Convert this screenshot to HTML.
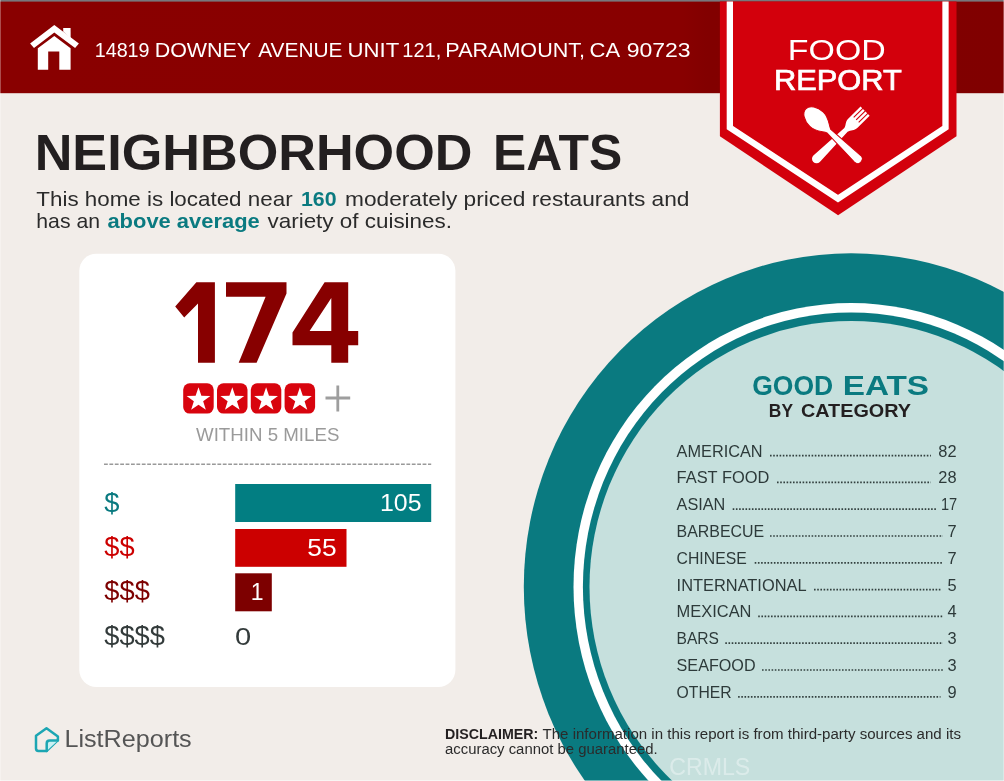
<!DOCTYPE html>
<html><head><meta charset="utf-8"><title>Food Report</title>
<style>html,body{margin:0;padding:0}body{width:1004px;height:781px;overflow:hidden;background:#f2ede9;font-family:"Liberation Sans", sans-serif}svg{display:block;position:absolute;left:0;top:0;will-change:transform}text{font-family:"Liberation Sans", sans-serif}</style>
</head><body>
<svg width="1004" height="781" viewBox="0 0 1004 781">
<defs><linearGradient id="hg" x1="0" x2="1" y1="0" y2="0"><stop offset="0" stop-color="#890000"/><stop offset="0.68" stop-color="#880000"/><stop offset="0.705" stop-color="#820000"/><stop offset="1" stop-color="#800000"/></linearGradient></defs>
<rect x="0" y="0" width="1004" height="781" fill="#f2ede9"/>
<ellipse cx="851.1" cy="586.8" rx="327.3" ry="333.5" fill="#0a7a80"/>
<ellipse cx="851.1" cy="586.8" rx="277.6" ry="283.7" fill="#ffffff"/>
<ellipse cx="851.1" cy="586.8" rx="268.2" ry="274.4" fill="#0a7a80"/>
<ellipse cx="851.1" cy="586.8" rx="261.6" ry="265.8" fill="#c6e0dd"/>
<rect x="0" y="0" width="1004" height="93.2" fill="url(#hg)"/>
<rect x="0" y="0" width="1004" height="1.6" fill="#77777c"/>
<polygon points="719.9,1.5 956.5,1.5 956.5,136.3 838.1,215.2 719.9,136.3" fill="#d3000c"/>
<polyline points="729.85,1.5 729.85,127.6 838,198.7 945.5,127.6 945.5,1.5" fill="none" stroke="#ffffff" stroke-width="6.3"/>
<g fill="#ffffff"><path d="M54.3 24.9 L78.9 43.5 L75.1 48.1 L54.3 32.6 L34 48.1 L30.1 43.5 Z"/><path d="M63.2 28 H70.6 V38.5 L63.2 31.5 Z"/><path d="M54.3 36 L70.6 48.3 V69.8 H59.3 V51.4 H48.2 V69.8 H37.8 V48.3 Z"/></g>
<text x="94.72" y="56.8" font-size="20.7" fill="#ffffff" textLength="54.83" lengthAdjust="spacingAndGlyphs" >14819</text>
<text x="154.67" y="56.8" font-size="20.7" fill="#ffffff" textLength="96.51" lengthAdjust="spacingAndGlyphs" >DOWNEY</text>
<text x="258.2" y="56.8" font-size="20.7" fill="#ffffff" textLength="84.35" lengthAdjust="spacingAndGlyphs" >AVENUE</text>
<text x="347.58" y="56.8" font-size="20.7" fill="#ffffff" textLength="51.69" lengthAdjust="spacingAndGlyphs" >UNIT</text>
<text x="402.33" y="56.8" font-size="20.7" fill="#ffffff" textLength="38.9" lengthAdjust="spacingAndGlyphs" >121,</text>
<text x="445.36" y="56.8" font-size="20.7" fill="#ffffff" textLength="139.64" lengthAdjust="spacingAndGlyphs" >PARAMOUNT,</text>
<text x="589.59" y="56.8" font-size="20.7" fill="#ffffff" textLength="30.59" lengthAdjust="spacingAndGlyphs" >CA</text>
<text x="626.72" y="56.8" font-size="20.7" fill="#ffffff" textLength="63.91" lengthAdjust="spacingAndGlyphs" >90723</text>
<text x="787.87" y="60" font-size="28.6" fill="#ffffff" textLength="97.86" lengthAdjust="spacingAndGlyphs" >FOOD</text>
<text x="773.9" y="89.7" font-size="28.6" fill="#ffffff" textLength="127.9" lengthAdjust="spacingAndGlyphs" stroke="#ffffff" stroke-width="0.7">REPORT</text>
<g fill="#ffffff" stroke="none">
<g transform="translate(865.1 111.1) rotate(45.5)"><path d="M-6.5 0 h2.4 v12.5 h1.1 v-12.5 h2.4 v12.5 h1.2 v-12.5 h2.4 v12.5 h1.1 v-12.5 h2.4 V17 C6.5 22 3.2 23 2.5 27 L4.6 68 A4.6 4.6 0 0 1 -4.6 68 L-2.5 27 C-3.2 23 -6.5 22 -6.5 17 Z"/></g>
<g transform="translate(805.8 108.8) rotate(-46)"><path stroke="#d3000c" stroke-width="1" d="M0 0 C5.4 0 9.8 6.9 9.8 15 C9.8 22.5 4.7 27.5 2.6 32 L4.6 72 A4.6 4.6 0 0 1 -4.6 72 L-2.6 32 C-4.7 27.5 -9.8 22.5 -9.8 15 C-9.8 6.9 -5.4 0 0 0 Z"/></g>
</g>
<text x="34.7" y="169.8" font-size="49.8" fill="#231f20" font-weight="700" textLength="437.8" lengthAdjust="spacingAndGlyphs" >NEIGHBORHOOD</text>
<text x="493.1" y="169.8" font-size="49.8" fill="#231f20" font-weight="700" textLength="129.1" lengthAdjust="spacingAndGlyphs" >EATS</text>
<text x="36.3" y="205.7" font-size="21" fill="#2b2b2b" textLength="256.3" lengthAdjust="spacingAndGlyphs" >This home is located near</text>
<text x="301" y="205.7" font-size="21" fill="#0a7a80" font-weight="700" textLength="35.6" lengthAdjust="spacingAndGlyphs" >160</text>
<text x="345" y="205.7" font-size="21" fill="#2b2b2b" textLength="344.5" lengthAdjust="spacingAndGlyphs" >moderately priced restaurants and</text>
<text x="36.3" y="228.3" font-size="21" fill="#2b2b2b" textLength="63.7" lengthAdjust="spacingAndGlyphs" >has an</text>
<text x="107.4" y="228.3" font-size="21" fill="#0a7a80" font-weight="700" textLength="152.4" lengthAdjust="spacingAndGlyphs" >above average</text>
<text x="267.5" y="228.3" font-size="21" fill="#2b2b2b" textLength="184.5" lengthAdjust="spacingAndGlyphs" >variety of cuisines.</text>
<rect x="79.3" y="253.8" width="376.1" height="433.2" rx="17" ry="17" fill="#ffffff"/>
<g fill="#870000"><path d="M196.4 282.2 H214.9 V362.7 H198 V303.4 L184.2 317.5 L175.2 306.6 Z"/><path d="M226 282.2 H286.5 V293.5 L256.6 362.7 H238.7 L265.6 296.7 H226 Z"/><path fill-rule="evenodd" d="M324.6 282.2 H348.2 V331 H358.2 V345.2 H348.2 V362.7 H331.3 V345.2 H292.5 V332.5 Z M331.3 298.1 V331 H309.6 Z"/></g>
<rect x="183.20" y="383.3" width="30.5" height="30.3" rx="6.5" ry="6.5" fill="#d8040e"/>
<polygon points="198.50,387.25 201.38,395.79 210.39,395.89 203.16,401.26 205.85,409.86 198.50,404.65 191.15,409.86 193.84,401.26 186.61,395.89 195.62,395.79" fill="#ffffff"/>
<rect x="217.00" y="383.3" width="30.5" height="30.3" rx="6.5" ry="6.5" fill="#d8040e"/>
<polygon points="232.30,387.25 235.18,395.79 244.19,395.89 236.96,401.26 239.65,409.86 232.30,404.65 224.95,409.86 227.64,401.26 220.41,395.89 229.42,395.79" fill="#ffffff"/>
<rect x="250.80" y="383.3" width="30.5" height="30.3" rx="6.5" ry="6.5" fill="#d8040e"/>
<polygon points="266.10,387.25 268.98,395.79 277.99,395.89 270.76,401.26 273.45,409.86 266.10,404.65 258.75,409.86 261.44,401.26 254.21,395.89 263.22,395.79" fill="#ffffff"/>
<rect x="284.60" y="383.3" width="30.5" height="30.3" rx="6.5" ry="6.5" fill="#d8040e"/>
<polygon points="299.90,387.25 302.78,395.79 311.79,395.89 304.56,401.26 307.25,409.86 299.90,404.65 292.55,409.86 295.24,401.26 288.01,395.89 297.02,395.79" fill="#ffffff"/>
<path d="M325.5 398 H350.2 M337.8 385.5 V411.5" stroke="#9e9e9e" stroke-width="2.8" fill="none"/>
<text x="196" y="440.8" font-size="17.6" fill="#9a9a9a" textLength="143.4" lengthAdjust="spacingAndGlyphs" >WITHIN 5 MILES</text>
<path d="M104 464.3 H431.2" stroke="#999999" stroke-width="1.5" stroke-dasharray="3.8 1.6" fill="none"/>
<rect x="235.2" y="484" width="196" height="38" fill="#027e82"/>
<rect x="235.2" y="529" width="111.3" height="37.8" fill="#cc0000"/>
<rect x="235.2" y="573.3" width="36.6" height="38" fill="#7d0000"/>
<text x="380" y="510.5" font-size="23" fill="#ffffff" textLength="41.5" lengthAdjust="spacingAndGlyphs" >105</text>
<text x="307.3" y="555.5" font-size="23" fill="#ffffff" textLength="29.3" lengthAdjust="spacingAndGlyphs" >55</text>
<text x="263.5" y="600" font-size="23" fill="#ffffff" text-anchor="end" >1</text>
<text x="234.9" y="644.7" font-size="23" fill="#333b3b" textLength="16.2" lengthAdjust="spacingAndGlyphs" >0</text>
<text x="104.3" y="511.6" font-size="28" fill="#0a7a80" textLength="15.2" lengthAdjust="spacingAndGlyphs" >$</text>
<text x="104.3" y="555.9" font-size="28" fill="#cc0000" textLength="30.3" lengthAdjust="spacingAndGlyphs" >$$</text>
<text x="104.3" y="600.2" font-size="28" fill="#7d0000" textLength="45.5" lengthAdjust="spacingAndGlyphs" >$$$</text>
<text x="104.3" y="644.5" font-size="28" fill="#333b3b" textLength="60.6" lengthAdjust="spacingAndGlyphs" >$$$$</text>
<text x="752.21" y="395.1" font-size="27.6" fill="#0a7a80" font-weight="700" textLength="81.03" lengthAdjust="spacingAndGlyphs" >GOOD</text>
<text x="842.69" y="395.1" font-size="27.6" fill="#0a7a80" font-weight="700" textLength="86.34" lengthAdjust="spacingAndGlyphs" >EATS</text>
<text x="768.84" y="416.7" font-size="17.8" fill="#231f20" font-weight="700" textLength="24.15" lengthAdjust="spacingAndGlyphs" >BY</text>
<text x="800.94" y="416.7" font-size="17.8" fill="#231f20" font-weight="700" textLength="110.05" lengthAdjust="spacingAndGlyphs" >CATEGORY</text>
<text x="676.6" y="456.5" font-size="16.4" fill="#2d3a3a" textLength="86.0" lengthAdjust="spacingAndGlyphs" >AMERICAN</text>
<path d="M770 455.6 H930.9" stroke="#33403f" stroke-width="1.7" stroke-dasharray="1.6 1.6" fill="none"/>
<text x="956.6" y="456.5" font-size="16.4" fill="#2d3a3a" text-anchor="end" >82</text>
<text x="676.6" y="483.3" font-size="16.4" fill="#2d3a3a" textLength="92.7" lengthAdjust="spacingAndGlyphs" >FAST FOOD</text>
<path d="M777 482.4 H930.9" stroke="#33403f" stroke-width="1.7" stroke-dasharray="1.6 1.6" fill="none"/>
<text x="956.6" y="483.3" font-size="16.4" fill="#2d3a3a" text-anchor="end" >28</text>
<text x="676.6" y="510.1" font-size="16.4" fill="#2d3a3a" textLength="48.7" lengthAdjust="spacingAndGlyphs" >ASIAN</text>
<path d="M732.7 509.2 H936.7" stroke="#33403f" stroke-width="1.7" stroke-dasharray="1.6 1.6" fill="none"/>
<text x="940.88" y="510.1" font-size="16.4" fill="#2d3a3a" textLength="16.22" lengthAdjust="spacingAndGlyphs" >17</text>
<text x="676.6" y="536.9" font-size="16.4" fill="#2d3a3a" textLength="87.6" lengthAdjust="spacingAndGlyphs" >BARBECUE</text>
<path d="M770 536.0 H943" stroke="#33403f" stroke-width="1.7" stroke-dasharray="1.6 1.6" fill="none"/>
<text x="956.6" y="536.9" font-size="16.4" fill="#2d3a3a" text-anchor="end" >7</text>
<text x="676.6" y="563.7" font-size="16.4" fill="#2d3a3a" textLength="70.1" lengthAdjust="spacingAndGlyphs" >CHINESE</text>
<path d="M754.7 562.8 H943" stroke="#33403f" stroke-width="1.7" stroke-dasharray="1.6 1.6" fill="none"/>
<text x="956.6" y="563.7" font-size="16.4" fill="#2d3a3a" text-anchor="end" >7</text>
<text x="676.6" y="590.5" font-size="16.4" fill="#2d3a3a" textLength="130.0" lengthAdjust="spacingAndGlyphs" >INTERNATIONAL</text>
<path d="M814 589.6 H940.5" stroke="#33403f" stroke-width="1.7" stroke-dasharray="1.6 1.6" fill="none"/>
<text x="956.6" y="590.5" font-size="16.4" fill="#2d3a3a" text-anchor="end" >5</text>
<text x="676.6" y="617.3" font-size="16.4" fill="#2d3a3a" textLength="74.9" lengthAdjust="spacingAndGlyphs" >MEXICAN</text>
<path d="M758.2 616.4 H943" stroke="#33403f" stroke-width="1.7" stroke-dasharray="1.6 1.6" fill="none"/>
<text x="956.6" y="617.3" font-size="16.4" fill="#2d3a3a" text-anchor="end" >4</text>
<text x="676.6" y="644.1" font-size="16.4" fill="#2d3a3a" textLength="42.4" lengthAdjust="spacingAndGlyphs" >BARS</text>
<path d="M725.3 643.2 H943" stroke="#33403f" stroke-width="1.7" stroke-dasharray="1.6 1.6" fill="none"/>
<text x="956.6" y="644.1" font-size="16.4" fill="#2d3a3a" text-anchor="end" >3</text>
<text x="676.6" y="670.9" font-size="16.4" fill="#2d3a3a" textLength="79.0" lengthAdjust="spacingAndGlyphs" >SEAFOOD</text>
<path d="M762 670.0 H943" stroke="#33403f" stroke-width="1.7" stroke-dasharray="1.6 1.6" fill="none"/>
<text x="956.6" y="670.9" font-size="16.4" fill="#2d3a3a" text-anchor="end" >3</text>
<text x="676.6" y="697.7" font-size="16.4" fill="#2d3a3a" textLength="55.1" lengthAdjust="spacingAndGlyphs" >OTHER</text>
<path d="M738.1 696.8 H940.5" stroke="#33403f" stroke-width="1.7" stroke-dasharray="1.6 1.6" fill="none"/>
<text x="956.6" y="697.7" font-size="16.4" fill="#2d3a3a" text-anchor="end" >9</text>
<g fill="none" stroke="#1ca6b3" stroke-width="2.5" stroke-linejoin="round" stroke-linecap="round"><path d="M46.5 728.2 L36 735.8 V748.5 Q36 750.9 38.4 750.9 H46.7 L57.9 740.2 V736.4 Z"/><path d="M46.7 750.9 V743.5 Q46.7 740.6 49.7 740.6 H57.9" fill="#c9f1f3"/></g>
<text x="64.44" y="747.2" font-size="23" fill="#555555" textLength="127.27" lengthAdjust="spacingAndGlyphs" >ListReports</text>
<text x="445" y="738.7" font-size="14" fill="#231f20" font-weight="700" textLength="93.3" lengthAdjust="spacingAndGlyphs" >DISCLAIMER:</text>
<text x="542.5" y="738.7" font-size="14" fill="#2b2b2b" textLength="418.5" lengthAdjust="spacingAndGlyphs" >The information in this report is from third-party sources and its</text>
<text x="445" y="754" font-size="14" fill="#2b2b2b" textLength="212.6" lengthAdjust="spacingAndGlyphs" >accuracy cannot be guaranteed.</text>
<text x="669.3" y="774.9" font-size="23.4" fill="#ffffff" textLength="81" lengthAdjust="spacingAndGlyphs" opacity="0.38">CRMLS</text>
<rect x="0" y="0" width="1" height="781" fill="#ffffff" opacity="0.3"/><rect x="1003" y="0" width="1" height="781" fill="#ffffff" opacity="0.3"/><rect x="0" y="780" width="1004" height="1" fill="#ffffff" opacity="0.45"/>
</svg>
</body></html>
